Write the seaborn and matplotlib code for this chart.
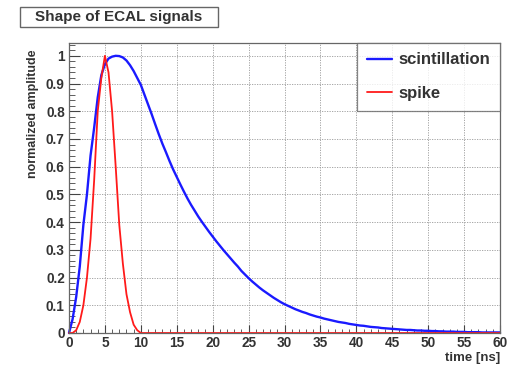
import numpy as np
import pandas as pd
import matplotlib
matplotlib.use("Agg")
import matplotlib.pyplot as plt
from matplotlib.patches import Rectangle
from matplotlib.ticker import MultipleLocator, FuncFormatter
import seaborn as sns

# ---- data (sampled every 0.5 ns, 0 .. 60 ns) ----
time_ns = np.arange(0.0, 60.01, 0.5)

scintillation = [
    0.0, 0.05, 0.13, 0.24, 0.39, 0.50, 0.64, 0.74, 0.85, 0.93,
    0.97, 0.99, 0.997, 1.0, 0.999, 0.994, 0.983, 0.966, 0.945, 0.92,
    0.895, 0.86, 0.825, 0.79, 0.753, 0.717, 0.683, 0.652, 0.62, 0.59,
    0.563, 0.536, 0.51, 0.485, 0.462, 0.441, 0.42, 0.401, 0.383, 0.365,
    0.348, 0.331, 0.315, 0.299, 0.284, 0.269, 0.254, 0.24, 0.224, 0.211,
    0.198, 0.186, 0.175, 0.164, 0.154, 0.145, 0.136, 0.127, 0.119, 0.111,
    0.104, 0.098, 0.092, 0.086, 0.081, 0.076, 0.072, 0.067, 0.063, 0.059,
    0.056, 0.052, 0.049, 0.046, 0.043, 0.040, 0.038, 0.036, 0.033, 0.031,
    0.029, 0.027, 0.026, 0.024, 0.022, 0.021, 0.020, 0.018, 0.017, 0.016,
    0.015, 0.014, 0.013, 0.012, 0.011, 0.011, 0.010, 0.009, 0.009, 0.008,
    0.008, 0.007, 0.007, 0.006, 0.006, 0.005, 0.005, 0.005, 0.004, 0.004,
    0.004, 0.003, 0.003, 0.003, 0.003, 0.002, 0.002, 0.002, 0.002, 0.002,
    0.002,
]

spike = [
    0.0, 0.0, 0.01, 0.04, 0.10, 0.20, 0.34, 0.55, 0.80, 0.92,
    1.0, 0.94, 0.80, 0.60, 0.39, 0.25, 0.14, 0.075, 0.03, 0.01,
] + [0.0] * 101

series_names = ["scintillation", "spike"]
series_colors = {"scintillation": "#1a1aff", "spike": "#ff1a1a"}

title_text = "Shape of ECAL signals"
x_label = "time [ns]"
y_label = "normalized amplitude"

df = pd.DataFrame({
    "t": np.concatenate([time_ns, time_ns]),
    "amp": np.concatenate([scintillation, spike]),
    "series": [series_names[0]] * len(time_ns) + [series_names[1]] * len(time_ns),
})

# ---- style ----
sns.set_theme(style="white")
plt.rcParams["font.family"] = ["Liberation Sans", "DejaVu Sans"]
plt.rcParams["font.weight"] = "bold"

fig = plt.figure(figsize=(5.12, 3.66), dpi=100)
ax = fig.add_axes([69 / 512, 33 / 366, 431 / 512, 290.5 / 366])

for name in series_names:
    sub = df[df["series"] == name]
    sns.lineplot(data=sub, x="t", y="amp", ax=ax, color=series_colors[name],
                 linewidth=1.7 if name == "scintillation" else 1.3,
                 label=name, clip_on=False)

ax.set_xlim(0, 60)
ax.set_ylim(0, 1.048)

ax.xaxis.set_major_locator(MultipleLocator(5))
ax.xaxis.set_minor_locator(MultipleLocator(1))
ax.yaxis.set_major_locator(MultipleLocator(0.1))
ax.yaxis.set_minor_locator(MultipleLocator(0.02))
ax.yaxis.set_major_formatter(FuncFormatter(lambda v, p: f"{v:.1f}".rstrip("0").rstrip(".") if v != 0 else "0"))
ax.xaxis.set_major_formatter(FuncFormatter(lambda v, p: f"{v:.0f}"))

ax.tick_params(axis="both", which="both", direction="in", colors="#444",
               labelcolor="#333", labelsize=9.8, left=True, bottom=True,
               right=False, top=False)
ax.tick_params(axis="y", which="major", length=8, width=0.8, pad=3)
ax.tick_params(axis="y", which="minor", length=4, width=0.6)
ax.tick_params(axis="x", which="major", length=6, width=0.8, pad=2)
ax.tick_params(axis="x", which="minor", length=3, width=0.6)
for lab in ax.get_xticklabels() + ax.get_yticklabels():
    lab.set_fontweight("bold")

ax.grid(True, which="major", color="#999999", linestyle=(0, (1.5, 1.5)), linewidth=0.6)
for s in ax.spines.values():
    s.set_color("#666")
    s.set_linewidth(0.9)

ax.set_xlabel("")
ax.set_ylabel("")
fig.text(500 / 512, 1 - 358 / 366, x_label, ha="right", va="center",
         fontsize=9.5, fontweight="bold", color="#333")
fig.text(33 / 512, 1 - 49 / 366, y_label, ha="center", va="top", rotation=90,
         fontsize=9, fontweight="bold", color="#333")

leg = ax.legend(loc="upper right", bbox_to_anchor=(1.0, 1.0), borderaxespad=0,
                fancybox=False, frameon=True, edgecolor="#666",
                prop={"size": 12, "weight": "bold"}, handlelength=1.5,
                handletextpad=0.4, labelspacing=1.1, borderpad=0.6)
leg.get_frame().set_linewidth(0.9)
for txt in leg.get_texts():
    txt.set_color("#333")

# title box
fig.patches.append(Rectangle((20 / 512, 1 - 26.7 / 366), 198 / 512, 20 / 366,
                             transform=fig.transFigure, facecolor="white",
                             edgecolor="#666", linewidth=1.0))
fig.text(119 / 512, 1 - 16.7 / 366, title_text, ha="center", va="center",
         fontsize=11, fontweight="bold", color="#333")

fig.savefig("out.png", dpi=100)
